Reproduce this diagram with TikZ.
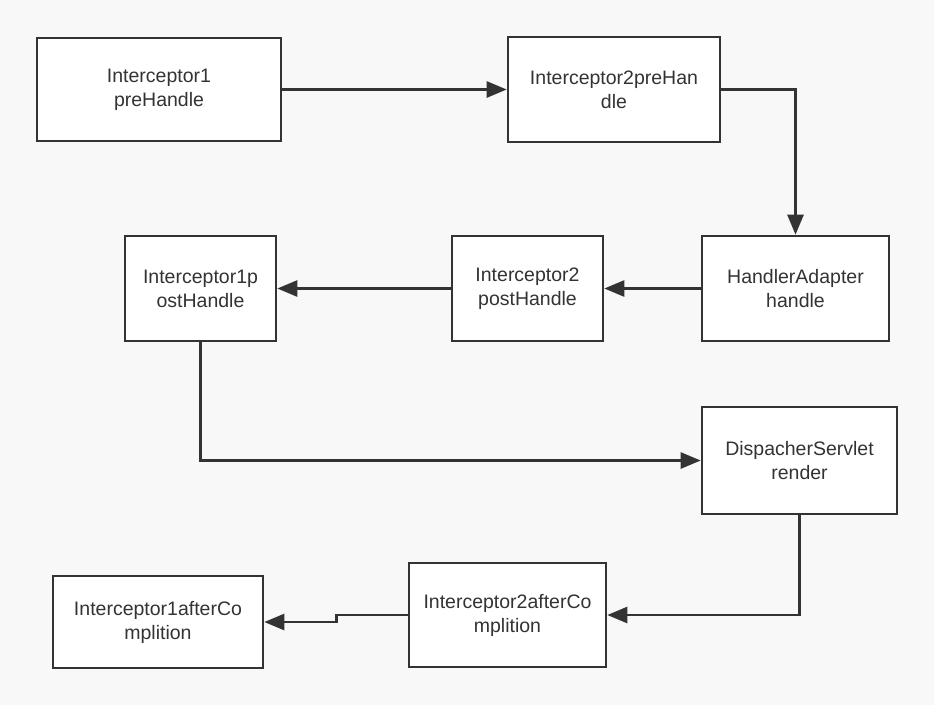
\documentclass[tikz,border=0pt]{standalone}
\usepackage{fontspec}
\setmainfont{Liberation Sans}
\usetikzlibrary{arrows.meta}
\definecolor{ink}{HTML}{333333}
\definecolor{paper}{HTML}{F8F8F8}
\begin{document}
\begin{tikzpicture}[x=1pt, y=-1pt,
    box/.style={draw=ink, line width=2.6pt, fill=white, text=ink, align=center,
        inner sep=0pt, font=\fontsize{19.5}{24}\selectfont},
    flow/.style={draw=ink, line width=2.6pt, -{Triangle[length=20pt, width=16pt]}}
]
            \fill[paper] (0,0) rectangle (934,705);
            \useasboundingbox (0,0) rectangle (934,705);
            % top row
            \node[box, minimum width=244pt, minimum height=103pt] (pre1) at (159,89.5) {Interceptor1\\preHandle};
            \node[box, minimum width=212pt, minimum height=105pt] (pre2) at (614,89.5) {Interceptor2preHan\\dle};
            % middle row
            \node[box, minimum width=187pt, minimum height=105pt] (adapter) at (795.5,288.5) {HandlerAdapter\\handle};
            \node[box, minimum width=151pt, minimum height=105pt] (post2) at (527.5,288.5) {Interceptor2\\postHandle};
            \node[box, minimum width=151pt, minimum height=105pt] (post1) at (200.5,288.5) {Interceptor1p\\ostHandle};
            \node[box, minimum width=195pt, minimum height=107pt] (render) at (799.5,460.5) {DispacherServlet\\render};
            % bottom row
            \node[box, minimum width=197pt, minimum height=104pt] (after2) at (507.5,615) {Interceptor2afterCo\\mplition};
            \node[box, minimum width=210pt, minimum height=92pt] (after1) at (158,622) {Interceptor1afterCo\\mplition};
            % connectors
            \draw[flow] (pre1.east) -- (pre2.west);
            \draw[flow] (pre2.east) -| (adapter.north);
            \draw[flow] (adapter.west) -- (post2.east);
            \draw[flow] (post2.west) -- (post1.east);
            \draw[flow] (post1.south) |- (render.west);
            \draw[flow] (render.south) |- (after2.east);
            \draw[flow] (after2.west) -- ++(-71,0) |- (after1.east);
        \end{tikzpicture}
\end{document}
